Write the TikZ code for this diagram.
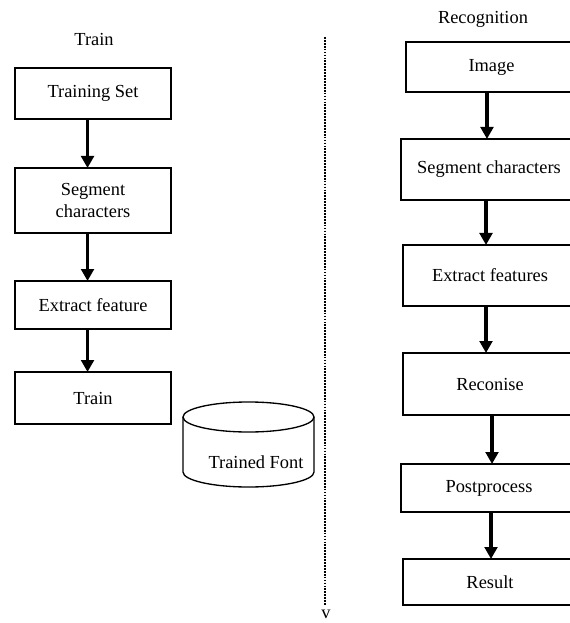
\documentclass[tikz,border=0pt]{standalone}
\usepackage{fontspec}
\setmainfont{Liberation Serif}
\usepackage{tikz}
\usetikzlibrary{arrows.meta}

\tikzset{
  stepbox/.style={draw, line width=1pt, inner sep=0pt, outer sep=0pt, font=\fontsize{13.8}{16}\selectfont},
  flow/.style={line width=2.3pt, -{Triangle[width=9.5pt,length=9pt]}},
  lbl/.style={inner sep=0.75pt, font=\fontsize{13.8}{16}\selectfont}
}

\begin{document}
\begin{tikzpicture}[x=0.75pt,y=0.75pt,yscale=-1,xscale=1]
\useasboundingbox (0,0) rectangle (569,623);

% Text Node
\node [lbl] (trainhead) at (94,40) {Train};
% Text Node
\node [lbl] (recohead) at (483,19) {Recognition};

%Shape: Rectangle [left column]
\node [stepbox, minimum width=117pt, minimum height=38.25pt] (tset) at (93,93.5) {Training Set};
\node [stepbox, minimum width=117pt, minimum height=48.75pt, align=center] (segl) at (93,200.5) {Segment\\characters};
\node [stepbox, minimum width=117pt, minimum height=36pt] (extl) at (93,305) {Extract feature};
\node [stepbox, minimum width=117pt, minimum height=39pt] (trainl) at (93,398) {Train};

%Shape: Can
\draw [line width=1pt] (183,417) -- (183,472) arc (180:0:65.5 and 15) -- (314,417) ;
\draw [line width=1pt] (248.5,417) ellipse (65.5 and 15) ;
% Text Node
\node [lbl] (store) at (256,462) {Trained Font};

%Shape: Rectangle [right column]
\node [stepbox, minimum width=128.25pt, minimum height=37.5pt] (img) at (491.5,67) {Image};
\node [stepbox, minimum width=132pt, minimum height=45.75pt] (segr) at (489,169.5) {Segment characters};
\node [stepbox, minimum width=130.5pt, minimum height=45.75pt] (extr) at (490,275.5) {Extract features};
\node [stepbox, minimum width=130.5pt, minimum height=46.5pt] (reco) at (490,384) {Reconise};
\node [stepbox, minimum width=132pt, minimum height=36pt] (post) at (489,488) {Postprocess};
\node [stepbox, minimum width=130.5pt, minimum height=34.5pt] (res) at (490,582) {Result};

%Straight Lines [left arrows]
\draw [flow] ([xshift=-4.1pt]tset.south) -- ([xshift=-4.1pt]tset.south |- segl.north);
\draw [flow] ([xshift=-4.1pt]segl.south) -- ([xshift=-4.1pt]segl.south |- extl.north);
\draw [flow] ([xshift=-4.1pt]extl.south) -- ([xshift=-4.1pt]extl.south |- trainl.north);

%Straight Lines [right arrows]
\draw [flow] ([xshift=-3.4pt]img.south) -- ([xshift=-3.4pt]img.south |- segr.north);
\draw [flow] ([xshift=-2.25pt]segr.south) -- ([xshift=-2.25pt]segr.south |- extr.north);
\draw [flow] ([xshift=-3pt]extr.south) -- ([xshift=-3pt]extr.south |- reco.north);
\draw [flow] ([xshift=1.5pt]reco.south) -- ([xshift=1.5pt]reco.south |- post.north);
\draw [flow] ([xshift=1.5pt]post.south) -- ([xshift=1.5pt]post.south |- res.north);

%Straight Lines [divider]
\coordinate (divtop) at (325,37);
\coordinate (divbot) at (325,605);
\draw [line width=1.8pt, dash pattern=on 1.3pt off 0.9pt] (divtop) -- (divbot);
% Text Node
\node [lbl] (vmark) at (326,614) {v};
\end{tikzpicture}
\end{document}
